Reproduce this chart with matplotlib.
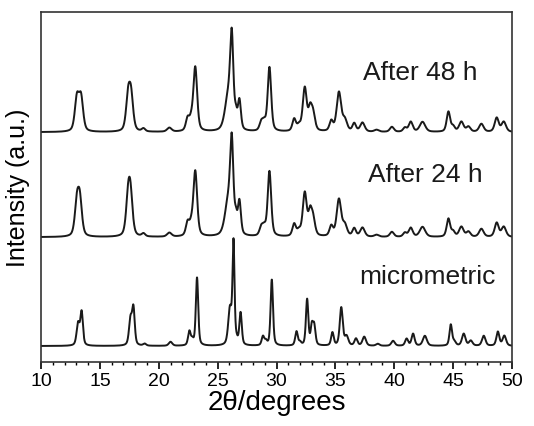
import numpy as np
import matplotlib.pyplot as plt

plt.rcParams['font.family'] = ['Liberation Sans', 'DejaVu Sans']

# peak lists: position (2theta), height (a.u.), fwhm (deg)
pos_48 = [13.05, 13.4, 17.4, 17.65, 18.7, 20.9, 22.45, 22.75, 23.1, 25.9, 26.2, 26.55, 26.85,
          28.7, 28.95, 29.4, 31.5, 31.9, 32.4, 32.85, 33.1, 34.65, 35.3, 35.8, 36.6, 37.3,
          38.5, 39.8, 40.9, 41.4, 42.4, 44.6, 45.0, 45.7, 46.3, 47.4, 48.7, 49.3]
hgt_48 = [33, 33, 33, 33, 3, 4, 12, 9, 64, 34, 84, 12, 29,
          8, 8, 64, 12, 5, 43, 19, 17, 10, 39, 11, 8, 9,
          2, 5, 4, 10, 10, 20, 5, 10, 5, 8, 14, 10]
fw_48 = [0.42, 0.42, 0.42, 0.42, 0.35, 0.45, 0.35, 0.35, 0.38, 0.65, 0.32, 0.25, 0.3,
         0.35, 0.35, 0.35, 0.35, 0.35, 0.4, 0.35, 0.4, 0.35, 0.45, 0.45, 0.35, 0.45,
         0.45, 0.4, 0.35, 0.4, 0.55, 0.35, 0.35, 0.45, 0.4, 0.45, 0.4, 0.45]

pos_24 = [13.05, 13.3, 17.4, 17.6, 18.7, 20.9, 22.45, 22.75, 23.1, 25.9, 26.2, 26.55, 26.85,
          28.7, 28.95, 29.4, 31.5, 31.9, 32.4, 32.85, 33.1, 34.65, 35.3, 35.8, 36.6, 37.3,
          38.5, 39.8, 40.9, 41.4, 42.4, 44.6, 45.0, 45.7, 46.3, 47.4, 48.7, 49.3]
hgt_24 = [32, 34, 35, 37, 3, 4, 13, 9, 65, 34, 84, 14, 33,
          8, 8, 65, 12, 5, 43, 21, 17, 10, 37, 11, 8, 9,
          2, 5, 4, 9, 10, 18, 5, 10, 5, 8, 14, 10]
fw_24 = fw_48

pos_mic = [13.15, 13.45, 17.6, 17.85, 18.8, 21.0, 22.6, 22.85, 23.25, 26.05, 26.35, 26.6, 26.95,
           28.85, 29.1, 29.6, 31.7, 32.0, 32.6, 33.0, 33.2, 34.75, 35.5, 35.95, 36.75, 37.45,
           38.6, 39.9, 41.05, 41.6, 42.6, 44.8, 45.1, 45.9, 46.5, 47.6, 48.8, 49.35]
hgt_mic = [22, 33, 26, 36, 2, 4, 14, 5, 68, 36, 100, 4, 32,
           9, 4, 66, 14, 3, 46, 18, 19, 13, 38, 9, 7, 9,
           2, 5, 7, 12, 10, 21, 4, 12, 5, 10, 14, 10]
fw_mic = [0.3, 0.26, 0.3, 0.26, 0.3, 0.35, 0.26, 0.24, 0.24, 0.35, 0.2, 0.24, 0.24,
          0.26, 0.24, 0.24, 0.26, 0.24, 0.24, 0.24, 0.26, 0.26, 0.3, 0.35, 0.3, 0.35,
          0.35, 0.35, 0.3, 0.3, 0.4, 0.26, 0.3, 0.35, 0.35, 0.35, 0.3, 0.35]

offsets = [16, 125, 230]
labels = ['micrometric', 'After 24 h', 'After 48 h']
label_xy = [(42.8, 86), (42.6, 188), (42.2, 290)]

two_theta = np.linspace(10, 50, 4001)


def profile(x, pos, hgt, fw, eta=0.45):
    # pseudo-Voigt sum of the read peaks
    y = np.zeros_like(x)
    for p, h, w in zip(pos, hgt, fw):
        g = np.exp(-4 * np.log(2) * ((x - p) / w) ** 2)
        l = 1 / (1 + 4 * ((x - p) / w) ** 2)
        y += h * (eta * l + (1 - eta) * g)
    return y


fig = plt.figure(figsize=(5.34, 4.27), dpi=100)
ax = fig.add_axes([0.0768, 0.150, 0.882, 0.8196])

traces = [(pos_mic, hgt_mic, fw_mic), (pos_24, hgt_24, fw_24), (pos_48, hgt_48, fw_48)]
for (p, h, w), off in zip(traces, offsets):
    y = profile(two_theta, p, h, w)
    ax.plot(two_theta, y - y.min() + off, color='#1a1a1a', lw=1.4)

for lab, (tx, ty) in zip(labels, label_xy):
    ax.text(tx, ty, lab, fontsize=19, ha='center', va='center', color='#1a1a1a')

ax.set_xlim(10, 50)
ax.set_ylim(0, 350)
ax.set_xticks(range(10, 51, 5))
ax.set_xticks(range(10, 51, 1), minor=True)
ax.set_yticks([])
ax.tick_params(axis='x', which='major', direction='out', length=5, width=1.2, labelsize=14, pad=2)
ax.tick_params(axis='x', which='minor', direction='out', length=2.5, width=1)
for s in ax.spines.values():
    s.set_linewidth(1.2)
    s.set_color('#333333')
ax.set_xlabel('2θ/degrees', fontsize=20, labelpad=0)
ax.set_ylabel('Intensity (a.u.)', fontsize=18, labelpad=8)

fig.savefig('out.png', dpi=100)
